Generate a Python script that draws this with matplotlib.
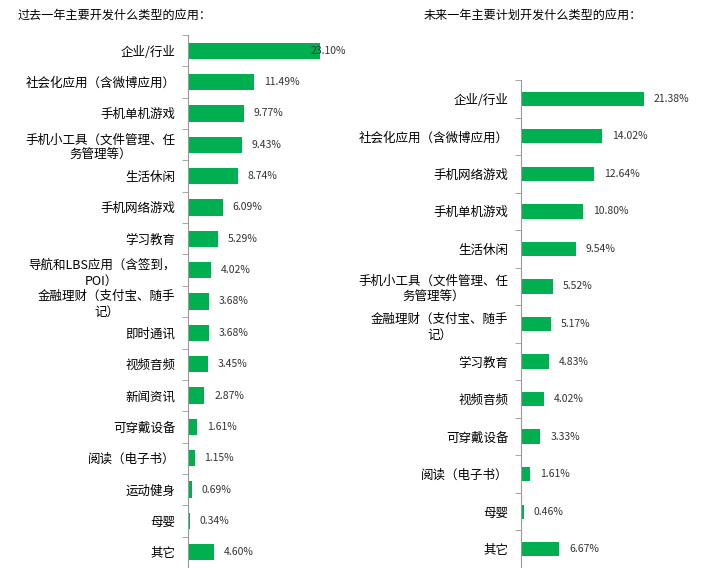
import matplotlib
matplotlib.use("Agg")
import matplotlib.pyplot as plt
import numpy as np

plt.rcParams['font.family'] = ['Noto Sans CJK SC', 'DejaVu Sans']

# 过去一年
past_cats = ["企业/行业", "社会化应用（含微博应用）", "手机单机游戏",
             "手机小工具（文件管理、任\n务管理等）", "生活休闲", "手机网络游戏",
             "学习教育", "导航和LBS应用（含签到，\nPOI）", "金融理财（支付宝、随手\n记）",
             "即时通讯", "视频音频", "新闻资讯", "可穿戴设备", "阅读（电子书）",
             "运动健身", "母婴", "其它"]
past_vals = [23.10, 11.49, 9.77, 9.43, 8.74, 6.09, 5.29, 4.02, 3.68,
             3.68, 3.45, 2.87, 1.61, 1.15, 0.69, 0.34, 4.60]

# 未来一年
future_cats = ["企业/行业", "社会化应用（含微博应用）", "手机网络游戏", "手机单机游戏",
               "生活休闲", "手机小工具（文件管理、任\n务管理等）", "金融理财（支付宝、随手\n记）",
               "学习教育", "视频音频", "可穿戴设备", "阅读（电子书）", "母婴", "其它"]
future_vals = [21.38, 14.02, 12.64, 10.80, 9.54, 5.52, 5.17, 4.83, 4.02, 3.33, 1.61, 0.46, 6.67]

green = '#00B050'
W, H = 725, 568
fig = plt.figure(figsize=(W/100, H/100), dpi=100)

def panel(rect, cats, vals, bh):
    ax = fig.add_axes(rect)
    n = len(cats)
    y = np.arange(n)
    ax.barh(y, vals, height=bh, color=green)
    ax.set_xlim(0, 28)
    ax.set_ylim(n - 0.5, -0.5)
    ax.set_yticks(y)
    ax.set_yticklabels(cats, fontsize=9, multialignment='center', linespacing=1.3)
    ax.set_yticks(np.arange(n + 1) - 0.5, minor=True)
    ax.tick_params(axis='y', which='major', length=0, pad=9)
    ax.tick_params(axis='y', which='minor', length=4, color='#999999', direction='out')
    ax.set_xticks([])
    for s in ['top', 'right', 'bottom']:
        ax.spines[s].set_visible(False)
    ax.spines['left'].set_color('#999999')
    for yi, v in zip(y, vals):
        if v > 22:
            # label pushed back inside the plot area, like Excel does
            ax.text(27.65, yi, f"{v:.2f}%", va='center', ha='right', fontsize=7.5, color='#333333')
        else:
            ax.text(v + 1.75, yi, f"{v:.2f}%", va='center', ha='left', fontsize=7.5, color='#333333')
    return ax

panel([188/W, 0, 160/W, (H-35)/H], past_cats, past_vals, 0.52)
panel([521/W, 0, 161/W, (H-80)/H], future_cats, future_vals, 0.38)

fig.text(18/W, 1 - 15/H, "过去一年主要开发什么类型的应用：", fontsize=8.7, va='center', ha='left')
fig.text(424/W, 1 - 15/H, "未来一年主要计划开发什么类型的应用：", fontsize=8.7, va='center', ha='left')

fig.savefig("out.png", dpi=100)
